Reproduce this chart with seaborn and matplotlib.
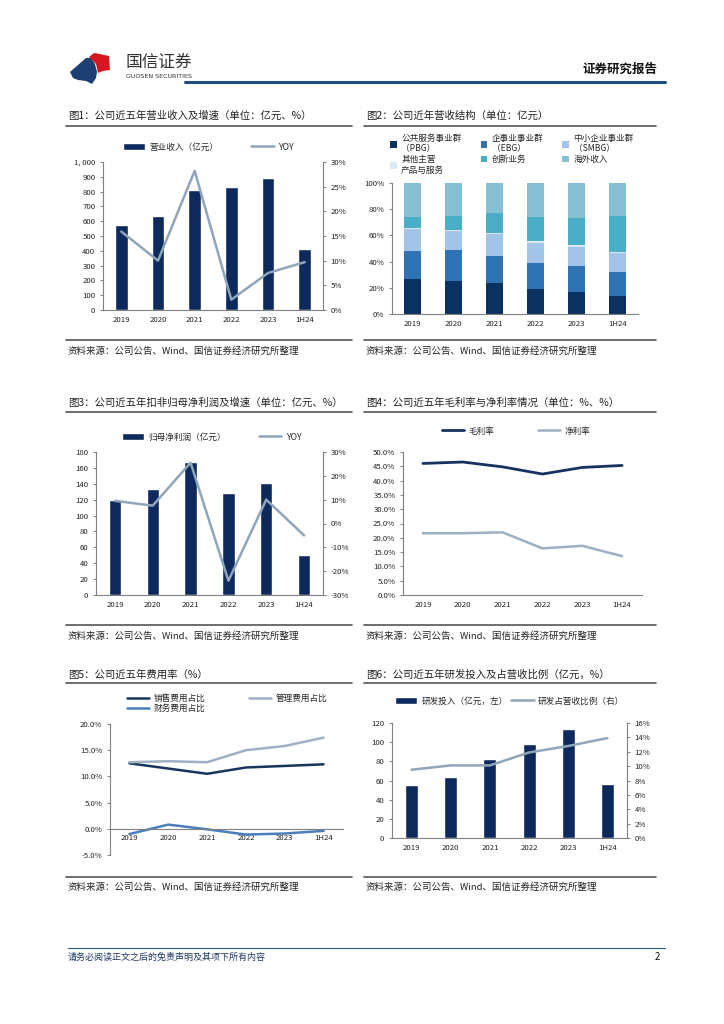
import numpy as np
import matplotlib
matplotlib.use("Agg")
import matplotlib.pyplot as plt
import seaborn as sns
from matplotlib.patches import Patch, Polygon
from matplotlib.lines import Line2D
from matplotlib.ticker import MultipleLocator, FuncFormatter

sns.set_style("white")
plt.rcParams['font.family'] = ['Noto Sans CJK SC', 'DejaVu Sans']
plt.rcParams['axes.unicode_minus'] = False

# ---- 数据 ----
years = ["2019", "2020", "2021", "2022", "2023", "1H24"]

revenue = [575, 632, 810, 830, 895, 410]
revenue_yoy = [15.9, 10.0, 28.2, 2.1, 7.5, 9.7]

struct_labels = ["公共服务事业群\n（PBG）", "企事业事业群\n（EBG）", "中小企业事业群\n（SMBG）",
                 "其他主营\n产品与服务", "创新业务", "海外收入"]
pbg = [26.5, 25.0, 23.5, 19.0, 17.0, 14.0]
ebg = [21.5, 23.5, 20.5, 20.0, 20.0, 18.0]
smbg = [17.0, 15.0, 17.0, 15.0, 14.5, 14.5]
other = [1.0, 1.0, 1.0, 1.5, 1.0, 1.0]
innovation = [8.0, 10.0, 15.0, 18.5, 20.5, 27.5]
overseas = [26.0, 25.5, 23.0, 26.0, 27.0, 25.0]

net_profit = [120, 133, 168, 128, 141, 50]
net_profit_yoy = [9.5, 7.5, 25.5, -24.0, 10.0, -5.0]

gross_margin = [46.0, 46.5, 44.8, 42.3, 44.6, 45.3]
net_margin = [21.6, 21.6, 21.9, 16.3, 17.2, 13.6]

sales_ratio = [12.5, 11.5, 10.5, 11.7, 12.0, 12.3]
admin_ratio = [12.7, 12.9, 12.7, 15.0, 15.8, 17.4]
finance_ratio = [-1.0, 0.8, -0.1, -1.1, -0.9, -0.4]

rd_spend = [55, 63.5, 82, 98, 114, 56]
rd_ratio = [9.5, 10.1, 10.1, 11.9, 12.8, 13.9]

NAVY = "#0E2A5C"
GREYBLUE = "#8FA5BA"
STRUCT_COLORS = ["#0B3160", "#2F73B5", "#A2C4E6", "#DCEAF7", "#4AAEC7", "#86BFD2"]
TXT = "#222222"
SPINE = "#808080"

W, H = 724, 1024
fig = plt.figure(figsize=(W / 100, H / 100), dpi=100)

def fx(x):
    return x / W

def fy(y):
    return 1 - y / H

def make_ax(l, t, r, b):
    return fig.add_axes([fx(l), fy(b), (r - l) / W, (b - t) / H])

# 画布装饰（像素坐标）
ov = fig.add_axes([0, 0, 1, 1], zorder=-1)
ov.set_xlim(0, W)
ov.set_ylim(H, 0)
ov.axis("off")

# logo
ov.add_patch(Polygon([(70, 72), (78, 65), (86, 58), (91, 58), (95, 64), (97, 72), (96, 78),
                      (92, 84), (86, 81), (78, 80), (73, 78)], closed=True, color="#1D3F73", lw=0))
ov.add_patch(Polygon([(89, 57), (94, 53), (100, 54), (104, 55), (109, 56), (110, 70),
                      (103, 71), (98, 73), (96, 64)], closed=True, color="#D7171F", lw=0))
ov.text(126, 62, "国信证券", fontsize=12, color="#333333", va="center", ha="left")
ov.text(126, 76, "GUOSEN SECURITIES", fontsize=4.6, color="#333333", va="center", ha="left",
        family=["DejaVu Sans"])
ov.plot([185, 665], [82, 82], color="#1F4E79", lw=2.2)
ov.text(657, 69, "证券研究报告", fontsize=9, fontweight="bold", color="#111111",
        ha="right", va="center")

# 页脚
ov.plot([68, 665], [948, 948], color="#2E5C8A", lw=0.8)
ov.text(68, 957, "请务必阅读正文之后的免责声明及其项下所有内容", fontsize=6.5, style="italic",
        color="#1F3864", ha="left", va="center")
ov.text(660, 957, "2", fontsize=7, color="#111111", ha="right", va="center")

titles = [
    ("图1：公司近五年营业收入及增速（单位：亿元、%）", 68, 116),
    ("图2：公司近年营收结构（单位：亿元）", 366, 116),
    ("图3：公司近五年扣非归母净利润及增速（单位：亿元、%）", 68, 403),
    ("图4：公司近五年毛利率与净利率情况（单位：%、%）", 366, 403),
    ("图5：公司近五年费用率（%）", 68, 675),
    ("图6：公司近五年研发投入及占营收比例（亿元，%）", 366, 675),
]
for txt, x, y in titles:
    ov.text(x, y, txt, fontsize=7.5, color=TXT, ha="left", va="center")

for y in [126, 412, 683]:
    ov.plot([66, 352], [y, y], color="#555555", lw=1.2)
    ov.plot([364, 656], [y, y], color="#555555", lw=1.2)

SOURCE = "资料来源：公司公告、Wind、国信证券经济研究所整理"
for y_line, y_txt in [(340, 351), (625, 636), (877, 887)]:
    ov.plot([66, 352], [y_line, y_line], color="#555555", lw=1.2)
    ov.plot([364, 656], [y_line, y_line], color="#555555", lw=1.2)
    ov.text(68, y_txt, SOURCE, fontsize=6.8, color=TXT, ha="left", va="center")
    ov.text(366, y_txt, SOURCE, fontsize=6.8, color=TXT, ha="left", va="center")

TICK_FS = 5.6
LEG_FS = 6.2
x_pos = np.arange(len(years))


def style_axis(ax, spines=("left", "bottom")):
    for s in ["top", "right", "left", "bottom"]:
        ax.spines[s].set_visible(s in spines)
        ax.spines[s].set_color(SPINE)
        ax.spines[s].set_linewidth(0.8)
    ax.set_xlim(-0.5, len(years) - 0.5)
    ax.set_xticks(x_pos)
    ax.set_xticklabels(years)
    ax.tick_params(axis="x", length=0, labelsize=TICK_FS, colors=TXT, pad=4)
    ax.tick_params(axis="y", length=2.5, width=0.7, color=SPINE, labelsize=TICK_FS,
                   colors=TXT, pad=3, left=True)
    ax.set_xlabel("")
    ax.set_ylabel("")
    ax.grid(False)


def boundary_ticks(ax):
    ax.set_xticks(np.arange(-0.5, len(years)), minor=True)
    ax.tick_params(axis="x", which="minor", length=3, width=0.7, direction="in", color=SPINE)


def right_axis(ax, lim, step, fmt):
    ax2 = ax.twinx()
    ax2.set_ylim(*lim)
    ax2.yaxis.set_major_locator(MultipleLocator(step))
    ax2.yaxis.set_major_formatter(FuncFormatter(fmt))
    for s in ["top", "left", "bottom"]:
        ax2.spines[s].set_visible(False)
    ax2.spines["right"].set_color(SPINE)
    ax2.spines["right"].set_linewidth(0.8)
    ax2.tick_params(axis="y", length=2.5, width=0.7, color=SPINE, labelsize=TICK_FS,
                    colors=TXT, pad=3, right=True)
    ax2.grid(False)
    return ax2


def legend_at(ax, handles, labels, x, y, ncol, colsp, hl=2.6, loc="center left"):
    return ax.legend(handles, labels, ncol=ncol, loc=loc, bbox_to_anchor=(fx(x), fy(y)),
                     bbox_transform=fig.transFigure, frameon=False, fontsize=LEG_FS,
                     borderpad=0, borderaxespad=0, handlelength=hl, handleheight=0.7,
                     handletextpad=0.5, columnspacing=colsp, labelspacing=0.3)


pct0 = lambda v, p: f"{v:.0f}%"
pct1 = lambda v, p: f"{v:.1f}%"

# ---- 图1 ----
ax1 = make_ax(103, 162, 323, 310)
sns.barplot(x=years, y=revenue, order=years, color=NAVY, saturation=1, width=0.35, ax=ax1)
style_axis(ax1, ("left", "bottom"))
ax1.set_ylim(0, 1000)
ax1.yaxis.set_major_locator(MultipleLocator(100))
ax1.yaxis.set_major_formatter(FuncFormatter(lambda v, p: f"{v:,.0f}".replace(",", ", ")))
ax1_r = right_axis(ax1, (0, 30), 5, pct0)
sns.lineplot(x=x_pos, y=revenue_yoy, ax=ax1_r, color=GREYBLUE, linewidth=1.8)
ax1_r.set_xlim(-0.5, 5.5)
legend_at(ax1_r, [Patch(facecolor=NAVY), Line2D([], [], color=GREYBLUE, lw=1.8)],
          ["营业收入（亿元）", "YOY"], 123, 147, 2, 3.8)

# ---- 图2 ----
ax2 = make_ax(392, 183, 638, 314)
bottom = np.zeros(len(years))
for vals, col, lab in zip([pbg, ebg, smbg, other, innovation, overseas], STRUCT_COLORS, struct_labels):
    ax2.bar(x_pos, vals, bottom=bottom, width=0.42, color=col, label=lab, linewidth=0)
    bottom = bottom + np.array(vals)
style_axis(ax2, ("left", "bottom"))
ax2.set_ylim(0, 100)
ax2.yaxis.set_major_locator(MultipleLocator(20))
ax2.yaxis.set_major_formatter(FuncFormatter(pct0))
h2, l2 = ax2.get_legend_handles_labels()
order2 = [0, 3, 1, 4, 2, 5]   # 按行排列
ax2.legend([h2[i] for i in order2], [l2[i] for i in order2], ncol=3, loc="upper left",
           bbox_to_anchor=(fx(390), fy(134)), bbox_transform=fig.transFigure, frameon=False,
           fontsize=LEG_FS, borderpad=0, borderaxespad=0, handlelength=0.8, handleheight=0.8,
           handletextpad=0.5, columnspacing=2.2, labelspacing=0.2)

# ---- 图3 ----
ax3 = make_ax(96, 452, 323, 595)
sns.barplot(x=years, y=net_profit, order=years, color=NAVY, saturation=1, width=0.33, ax=ax3)
style_axis(ax3, ("left", "bottom"))
ax3.set_ylim(0, 180)
ax3.yaxis.set_major_locator(MultipleLocator(20))
ax3_r = right_axis(ax3, (-30, 30), 10, pct0)
sns.lineplot(x=x_pos, y=net_profit_yoy, ax=ax3_r, color=GREYBLUE, linewidth=1.8)
ax3_r.set_xlim(-0.5, 5.5)
legend_at(ax3_r, [Patch(facecolor=NAVY), Line2D([], [], color=GREYBLUE, lw=1.8)],
          ["归母净利润（亿元）", "YOY"], 122, 437, 2, 3.8)

# ---- 图4 ----
ax4 = make_ax(403, 452, 642, 595)
sns.lineplot(x=x_pos, y=gross_margin, ax=ax4, color="#16335F", linewidth=2.0, label="毛利率")
sns.lineplot(x=x_pos, y=net_margin, ax=ax4, color="#9DB0C3", linewidth=1.8, label="净利率")
style_axis(ax4, ("left", "bottom"))
boundary_ticks(ax4)
ax4.set_ylim(0, 50)
ax4.yaxis.set_major_locator(MultipleLocator(5))
ax4.yaxis.set_major_formatter(FuncFormatter(pct1))
h4, l4 = ax4.get_legend_handles_labels()
legend_at(ax4, h4, l4, 442, 431, 2, 5.0)

# ---- 图5 ----
ax5 = make_ax(110, 724, 343, 855)
sns.lineplot(x=x_pos, y=sales_ratio, ax=ax5, color="#17365D", linewidth=1.8, label="销售费用占比")
sns.lineplot(x=x_pos, y=admin_ratio, ax=ax5, color="#9FB0C4", linewidth=1.8, label="管理费用占比")
sns.lineplot(x=x_pos, y=finance_ratio, ax=ax5, color="#4A7EBB", linewidth=1.8, label="财务费用占比")
style_axis(ax5, ("left", "bottom"))
ax5.spines["bottom"].set_position(("data", 0))
boundary_ticks(ax5)
ax5.set_ylim(-5, 20)
ax5.yaxis.set_major_locator(MultipleLocator(5))
ax5.yaxis.set_major_formatter(FuncFormatter(pct1))
h5, l5 = ax5.get_legend_handles_labels()
order5 = [0, 2, 1]   # 按行排列
ax5.legend([h5[i] for i in order5], [l5[i] for i in order5], ncol=2, loc="upper left",
           bbox_to_anchor=(fx(127), fy(694)), bbox_transform=fig.transFigure, frameon=False,
           fontsize=LEG_FS, borderpad=0, borderaxespad=0, handlelength=2.6, handletextpad=0.5,
           columnspacing=5.0, labelspacing=0.1)

# ---- 图6 ----
ax6 = make_ax(392, 723, 627, 838)
sns.barplot(x=years, y=rd_spend, order=years, color=NAVY, saturation=1, width=0.33, ax=ax6)
style_axis(ax6, ("left", "bottom"))
boundary_ticks(ax6)
ax6.set_ylim(0, 120)
ax6.yaxis.set_major_locator(MultipleLocator(20))
ax6_r = right_axis(ax6, (0, 16), 2, pct0)
sns.lineplot(x=x_pos, y=rd_ratio, ax=ax6_r, color=GREYBLUE, linewidth=1.8)
ax6_r.set_xlim(-0.5, 5.5)
legend_at(ax6_r, [Patch(facecolor=NAVY), Line2D([], [], color=GREYBLUE, lw=1.8)],
          ["研发投入（亿元，左）", "研发占营收比例（右）"], 395, 701, 2, 0.4)

fig.savefig("out.png", dpi=100, facecolor="white")
